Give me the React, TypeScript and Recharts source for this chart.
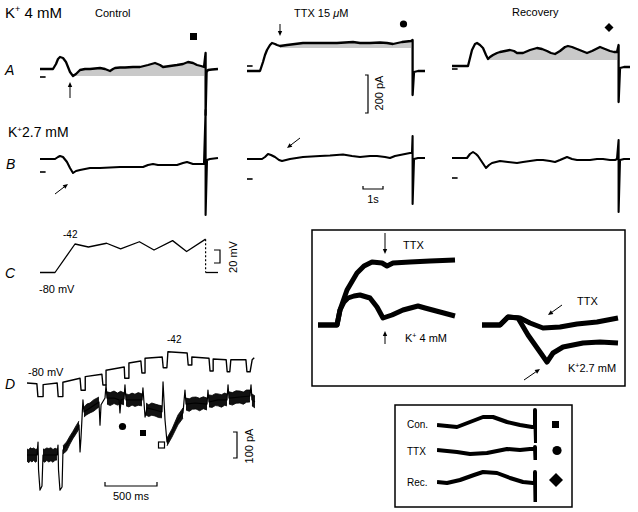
import React from 'react';
import { ComposedChart, Line, Area, XAxis, YAxis, ReferenceLine } from 'recharts';

type P = [number, number];

// ---------- Panel A (K+ 4 mM): time (s) vs current (pA, relative to holding) ----------
const ctrlA: P[] = [[0,0],[0.65,0],[0.8,25],[0.9,50],[1.0,60],[1.15,55],[1.3,35],[1.5,-15],[1.65,-35],[1.8,-25],[2.0,-5],[2.25,0],[2.5,0],[2.75,2.5],[3.0,5],[3.25,0],[3.5,-10],[3.65,0],[3.75,5],[4.0,7.5],[4.25,7.5],[4.65,10],[5.0,10],[5.4,20],[5.75,30],[6.0,20],[6.15,10],[6.5,15],[6.85,20],[7.15,25],[7.4,35],[7.65,30],[7.85,20],[8.05,15],[8.2,10],[8.28,80],[8.28,-230],[8.33,-15],[8.4,-5],[8.6,-2.5],[8.9,0]];
const ttxA: P[] = [[0,0],[0.65,0],[0.8,45],[0.9,80],[1.0,105],[1.15,130],[1.25,140],[1.4,135],[1.5,130],[1.65,125],[2.0,130],[2.4,135],[2.8,140],[3.65,140],[4.5,140],[4.9,142.5],[5.3,145],[5.65,140],[6.15,140],[6.65,142.5],[7.0,140],[7.3,135],[7.75,145],[8.2,150],[8.28,155],[8.28,-120],[8.35,-5],[8.55,0],[8.9,0]];
const recA: P[] = [[0,0],[0.8,0],[0.9,40],[1.0,80],[1.15,110],[1.25,115],[1.4,105],[1.55,90],[1.7,55],[1.8,35],[1.9,45],[2.05,55],[2.25,65],[2.4,70],[2.65,75],[2.9,80],[3.1,75],[3.25,65],[3.55,65],[3.9,80],[4.25,90],[4.5,85],[4.75,75],[4.95,65],[5.15,60],[5.4,75],[5.65,95],[5.8,100],[6.0,95],[6.25,85],[6.5,75],[6.75,65],[7.0,75],[7.2,85],[7.4,95],[7.65,85],[7.9,75],[8.1,70],[8.25,70],[8.33,105],[8.33,-180],[8.4,-10],[8.6,-5],[8.9,-5]];
// shaded (grey) region: [start s, end s, lower level pA]
const shadeA: [number, number, number][] = [[1.65, 8.2, -35], [1.65, 8.2, 115], [1.8, 8.25, 30]];
// zero-current marks (pA)
const zeroA: number[] = [-40, 25, -15];

// ---------- Panel B (K+ 2.7 mM) ----------
const ctrlB: P[] = [[0,0],[0.75,0],[0.9,10],[1.0,15],[1.15,10],[1.35,-15],[1.5,-45],[1.65,-70],[1.8,-60],[2.0,-55],[2.25,-50],[2.5,-45],[3.0,-45],[3.5,-42.5],[4.0,-40],[4.65,-40],[5.15,-40],[5.4,-30],[5.65,-25],[5.9,-30],[6.15,-30],[6.5,-30],[6.85,-30],[7.15,-20],[7.35,-15],[7.65,-25],[8.0,-25],[8.2,-25],[8.28,245],[8.28,-280],[8.35,-5],[8.5,0],[8.9,5]];
const ttxB: P[] = [[0,0],[0.75,0],[0.9,10],[1.05,25],[1.2,20],[1.4,10],[1.6,-5],[1.75,-10],[1.95,-5],[2.15,0],[2.8,10],[3.65,15],[4.15,17.5],[4.8,22.5],[5.25,15],[5.65,10],[6.15,15],[6.5,15],[6.9,10],[7.15,5],[7.4,15],[7.65,20],[7.9,25],[8.15,30],[8.25,30],[8.28,115],[8.28,-225],[8.35,0],[8.55,5],[8.9,5]];
const recB: P[] = [[0,0],[0.75,0],[0.9,20],[1.05,30],[1.2,20],[1.3,10],[1.5,-20],[1.7,-50],[1.85,-35],[2.0,-25],[2.2,-20],[2.4,-15],[2.8,-20],[3.25,-25],[3.55,-20],[3.9,-15],[4.25,-10],[4.55,-10],[4.9,-15],[5.15,-20],[5.4,-10],[5.75,5],[6.0,-5],[6.25,-10],[6.65,-10],[6.9,-10],[7.25,-5],[7.55,-5],[7.9,-10],[8.15,-10],[8.25,-5],[8.33,90],[8.33,-270],[8.4,-10],[8.6,-5],[8.9,-5]];
const zeroB: number[] = [-65, -100, -100];

// ---------- Panel C: command voltage (mV) ----------
const cmdC: P[] = [[0,-80],[0.75,-80],[1.75,-42],[2.42,-46],[3.33,-41],[4.03,-48.5],[4.97,-39],[5.7,-50],[6.63,-37.5],[7.33,-52],[8.28,-35.5]];
const cmdCStep: P[] = [[8.28,-35.5],[8.28,-80]];
const cmdCTail: P[] = [[8.28,-80],[8.9,-80]];

// ---------- Panel D: time (ms) ----------
const dVolt: P[] = [[0,-80],[95,-81],[105,-97],[155,-97],[155,-82],[290,-80],[300,-97],[345,-97],[345,-79],[510,-74],[520,-89],[560,-89],[560,-72],[720,-69],[730,-82.5],[760,-82.5],[760,-64],[935,-60],[940,-74],[980,-74],[980,-55],[1095,-52.5],[1105,-67.5],[1135,-67.5],[1135,-49],[1300,-47.5],[1310,-61],[1345,-61],[1355,-41],[1540,-42.5],[1550,-57.5],[1585,-57.5],[1585,-47.5],[1750,-49],[1760,-65],[1790,-65],[1790,-50],[1915,-51],[1925,-66],[1950,-66],[1960,-51],[2105,-51],[2115,-66],[2145,-66],[2165,-51],[2185,-48.5]];
const dCurr: P[] = [[0,0],[96,0],[106,50],[111,-58],[125,-135],[144,-119],[154,0],[288,0],[298,38],[303,-58],[317,-135],[337,-123],[346,19],[413,58],[471,96],[500,115],[510,12],[519,65],[538,212],[548,166],[606,181],[692,204],[702,115],[712,193],[750,219],[760,270],[769,219],[837,219],[885,212],[894,162],[904,212],[933,216],[942,270],[952,212],[1038,212],[1106,212],[1115,258],[1135,146],[1154,181],[1231,173],[1298,166],[1308,281],[1327,135],[1346,50],[1375,73],[1413,104],[1452,135],[1500,162],[1519,250],[1529,196],[1615,200],[1731,196],[1740,250],[1750,204],[1837,212],[1923,212],[1933,270],[1942,219],[2048,223],[2144,227],[2154,270],[2163,212],[2192,204]];
// noise envelope of the current record: segments of [t, low, high]
const dNoise: [number, number, number][][] = [
  [[0,-23,23],[16,-30,20],[32,-22,28],[48,-27,24],[64,-20,27],[80,-28,22],[96,-23,23]],
  [[154,-23,23],[170,-28,22],[190,-21,27],[210,-27,25],[230,-22,28],[250,-28,21],[270,-20,26],[288,-19,23]],
  [[346,4,35],[380,15,50],[413,42,73],[440,62,90],[471,81,112],[500,100,131]],
  [[548,146,185],[575,155,196],[606,162,200],[640,168,212],[692,185,223]],
  [[769,196,243],[800,190,240],[837,198,246],[870,192,238],[900,197,245],[933,193,239]],
  [[952,189,235],[980,185,232],[1010,192,238],[1038,187,234],[1070,191,240],[1106,189,235]],
  [[1144,154,200],[1170,148,193],[1200,153,200],[1231,150,196],[1265,144,192],[1298,143,189]],
  [[1346,35,65],[1394,69,100],[1452,116,154],[1500,142,181]],
  [[1529,173,219],[1560,168,216],[1590,176,222],[1625,177,223],[1660,170,218],[1695,178,224],[1731,173,219]],
  [[1750,185,231],[1780,183,229],[1810,190,236],[1837,189,235],[1870,184,232],[1900,191,238],[1923,189,235]],
  [[1942,196,243],[1975,192,240],[2010,199,247],[2048,200,246],[2080,195,242],[2110,203,250],[2144,204,250]],
  [[2163,189,235],[2192,181,227]],
];

// ---------- Inset 1: expanded onsets (ms, pA) ----------
const in4Ttx: P[] = [[0,0],[380,0],[440,30],[580,70],[780,104],[920,118],[1080,126],[1280,124],[1380,118],[1500,124],[1840,126],[2240,128],[2740,130]];
const in4Ctl: P[] = [[0,0],[380,0],[440,30],[520,46],[600,54],[720,58],[840,60],[1040,54],[1180,36],[1300,14],[1480,20],[1700,30],[2000,38],[2140,34],[2440,26],[2740,18]];
const in27Ttx: P[] = [[0,0],[360,0],[520,16],[760,14],[960,4],[1220,-6],[1560,-4],[1900,2],[2300,6],[2720,14]];
const in27Ctl: P[] = [[0,0],[360,0],[520,16],[720,14],[920,-20],[1160,-54],[1300,-74],[1420,-56],[1620,-44],[2020,-36],[2360,-34],[2720,-36]];

// ---------- Inset 2: ends of the records (ms, pA) ----------
const endCon: P[] = [[0,0],[100,-2],[200,-4],[330,6],[460,16],[560,16],[700,6],[830,0],[950,-4],[980,-4],[980,30],[990,-36]];
const endTtx: P[] = [[0,0],[200,-4],[330,-8],[500,-6],[700,2],[830,0],[930,2],[980,2],[980,6],[985,-20]];
const endRec: P[] = [[0,0],[100,-2],[230,4],[370,14],[460,20],[600,18],[730,8],[860,0],[960,-2],[980,-2],[980,20],[985,-40]];

const FONT = '"Liberation Sans", Arial, Helvetica, sans-serif';

type TraceProps = {
  left: number; top: number; width: number; height: number;
  xd: [number, number]; yd: [number, number];
  pts: P[]; sw?: number; shade?: [number, number, number]; zero?: number; zeroLen?: number;
  dashed?: boolean;
};

function Trace({ left, top, width, height, xd, yd, pts, sw = 2, shade, zero, zeroLen = 0.28, dashed }: TraceProps) {
  const rows = pts.map(([t, v]) => ({
    t, v,
    f: shade && t >= shade[0] && t <= shade[1] ? v : null,
  }));
  return (
    <div style={{ position: 'absolute', left, top, width, height }}>
      <ComposedChart width={width} height={height} data={rows} margin={{ top: 0, right: 0, bottom: 0, left: 0 }}>
        <XAxis type="number" dataKey="t" domain={xd} hide allowDataOverflow />
        <YAxis type="number" domain={yd} hide allowDataOverflow />
        {shade && (
          <Area dataKey="f" baseValue={shade[2]} stroke="none" fill="#c9c9c9" fillOpacity={1} isAnimationActive={false} connectNulls={false} type="linear" />
        )}
        {zero !== undefined && (
          <ReferenceLine segment={[{ x: 0, y: zero }, { x: zeroLen, y: zero }]} stroke="#000" strokeWidth={1.6} />
        )}
        <Line dataKey="v" stroke="#000" strokeWidth={sw} dot={false} isAnimationActive={false} type="linear"
          strokeDasharray={dashed ? '2 2' : undefined} strokeLinejoin="round" />
      </ComposedChart>
    </div>
  );
}

function NoiseBand({ left, top, width, height, xd, yd }: { left: number; top: number; width: number; height: number; xd: [number, number]; yd: [number, number] }) {
  const rows: { t: number; r: [number, number] | null }[] = [];
  dNoise.forEach((seg) => {
    seg.forEach(([t, lo, hi]) => rows.push({ t, r: [lo, hi] }));
    rows.push({ t: seg[seg.length - 1][0] + 1, r: null });
  });
  return (
    <div style={{ position: 'absolute', left, top, width, height }}>
      <ComposedChart width={width} height={height} data={rows} margin={{ top: 0, right: 0, bottom: 0, left: 0 }}>
        <XAxis type="number" dataKey="t" domain={xd} hide allowDataOverflow />
        <YAxis type="number" domain={yd} hide allowDataOverflow />
        <Area dataKey="r" stroke="#000" strokeWidth={0.8} fill="#111" fillOpacity={1} isAnimationActive={false} connectNulls={false} type="linear" />
      </ComposedChart>
    </div>
  );
}

function Arrow({ x1, y1, x2, y2 }: { x1: number; y1: number; x2: number; y2: number }) {
  const dx = x2 - x1, dy = y2 - y1;
  const L = Math.hypot(dx, dy);
  const ux = dx / L, uy = dy / L;
  const hl = 5, hw = 2.2;
  const bx = x2 - ux * hl, by = y2 - uy * hl;
  const p = `${x2},${y2} ${bx - uy * hw},${by + ux * hw} ${bx + uy * hw},${by - ux * hw}`;
  return (
    <g>
      <line x1={x1} y1={y1} x2={bx} y2={by} stroke="#000" strokeWidth={1} />
      <polygon points={p} fill="#000" />
    </g>
  );
}

function T({ x, y, s = 11, children, anchor = 'start', italic, rot }: { x: number; y: number; s?: number; children: React.ReactNode; anchor?: string; italic?: boolean; rot?: boolean }) {
  return (
    <text x={x} y={y} fontSize={s} fontFamily={FONT} fill="#000" textAnchor={anchor as any}
      fontStyle={italic ? 'italic' : 'normal'} transform={rot ? `rotate(-90 ${x} ${y})` : undefined}>
      {children}
    </text>
  );
}

export default function App() {
  const rowAY = [69, 71, 66];
  const rowBY = [159, 159, 158];
  const cols = [40, 247, 452];
  const A = [ctrlA, ttxA, recA];
  const B = [ctrlB, ttxB, recB];
  return (
    <div style={{ position: 'absolute', left: 0, top: 0, width: 638, height: 512, background: '#fff', overflow: 'hidden' }}>
      {A.map((pts, i) => (
        <Trace key={'a' + i} left={cols[i]} top={rowAY[i] - 100} width={200} height={200} xd={[0, 10]} yd={[-500, 500]}
          pts={pts} sw={2.3} shade={shadeA[i]} zero={zeroA[i]} />
      ))}
      {B.map((pts, i) => (
        <Trace key={'b' + i} left={cols[i]} top={rowBY[i] - 100} width={200} height={200} xd={[0, 10]} yd={[-500, 500]}
          pts={pts} sw={2.1} zero={zeroB[i]} />
      ))}
      <Trace left={40} top={220} width={200} height={60} xd={[0, 10]} yd={[-90, -10]} pts={cmdC} sw={1.3} />
      <Trace left={40} top={220} width={200} height={60} xd={[0, 10]} yd={[-90, -10]} pts={cmdCStep} sw={1.2} dashed />
      <Trace left={40} top={220} width={200} height={60} xd={[0, 10]} yd={[-90, -10]} pts={cmdCTail} sw={1.3} />

      <Trace left={27} top={335} width={260} height={64} xd={[0, 2500]} yd={[-100, -20]} pts={dVolt} sw={1.4} />
      <NoiseBand left={27} top={377} width={260} height={130} xd={[0, 2500]} yd={[-200, 300]} />
      <Trace left={27} top={377} width={260} height={130} xd={[0, 2500]} yd={[-200, 300]} pts={dCurr} sw={1.2} />

      <Trace left={318} top={245} width={140} height={130} xd={[0, 2800]} yd={[-100, 160]} pts={in4Ttx} sw={5} />
      <Trace left={318} top={245} width={140} height={130} xd={[0, 2800]} yd={[-100, 160]} pts={in4Ctl} sw={5} />
      <Trace left={482} top={245} width={140} height={130} xd={[0, 2800]} yd={[-100, 160]} pts={in27Ttx} sw={5} />
      <Trace left={482} top={245} width={140} height={130} xd={[0, 2800]} yd={[-100, 160]} pts={in27Ctl} sw={5} />

      <Trace left={437} top={400} width={100} height={50} xd={[0, 1000]} yd={[-50, 50]} pts={endCon} sw={4} />
      <Trace left={437} top={425} width={100} height={50} xd={[0, 1000]} yd={[-50, 50]} pts={endTtx} sw={4} />
      <Trace left={437} top={457} width={100} height={50} xd={[0, 1000]} yd={[-50, 50]} pts={endRec} sw={4} />

      <svg width={638} height={512} style={{ position: 'absolute', left: 0, top: 0, pointerEvents: 'none' }}>
        {/* headings */}
        <T x={5} y={18} s={15}>K<tspan dy={-6} fontSize={9}>+</tspan><tspan dy={6}> 4 mM</tspan></T>
        <T x={95} y={17}>Control</T>
        <T x={294} y={17}>TTX 15 <tspan fontStyle="italic">μ</tspan>M</T>
        <T x={512} y={16}>Recovery</T>
        <T x={5} y={75} s={14} italic>A</T>
        <T x={8} y={137} s={14}>K<tspan dy={-5} fontSize={8}>+</tspan><tspan dy={5}>2.7 mM</tspan></T>
        <T x={6} y={169} s={14} italic>B</T>
        <T x={5} y={278} s={14} italic>C</T>
        <T x={5} y={389} s={14} italic>D</T>

        {/* markers */}
        <rect x={190} y={33} width={7} height={7} fill="#000" />
        <circle cx={403.5} cy={24} r={3.6} fill="#000" />
        <polygon points="609,23 613.5,27.5 609,32 604.5,27.5" fill="#000" />

        {/* scale bars */}
        <path d="M365 75 H368 V113 H365" stroke="#000" strokeWidth={1.2} fill="none" />
        <T x={383} y={93} rot anchor="middle">200 pA</T>
        <path d="M363 186 V189 H383 V186" stroke="#000" strokeWidth={1.2} fill="none" />
        <T x={373} y={203} anchor="middle">1s</T>
        <path d="M214 250 H220 V263 H214" stroke="#000" strokeWidth={1.2} fill="none" />
        <T x={237} y={257} rot anchor="middle">20 mV</T>

        {/* arrows A/B */}
        <Arrow x1={70} y1={98} x2={70} y2={82} />
        <Arrow x1={280} y1={24} x2={280} y2={36} />
        <Arrow x1={55} y1={194} x2={68} y2={184} />
        <Arrow x1={300} y1={138} x2={287} y2={148} />

        {/* C labels */}
        <T x={63} y={238} s={10}>-42</T>
        <T x={39} y={293}>-80 mV</T>

        {/* D labels */}
        <T x={28} y={376}>-80 mV</T>
        <T x={167} y={343} s={10}>-42</T>
        <circle cx={122.5} cy={426.5} r={3.6} fill="#000" />
        <rect x={140} y={430} width={6} height={6} fill="#000" />
        <rect x={158.5} y={442} width={6} height={6} fill="#fff" stroke="#000" strokeWidth={1.2} />
        <path d="M233 432 H237 V458 H233" stroke="#000" strokeWidth={1.2} fill="none" />
        <T x={253} y={446} rot anchor="middle">100 pA</T>
        <path d="M105 482 V486 H157 V482" stroke="#000" strokeWidth={1.2} fill="none" />
        <T x={131} y={500} anchor="middle">500 ms</T>

        {/* inset 1 */}
        <rect x={312} y={230} width={313} height={156} fill="none" stroke="#000" strokeWidth={1.5} />
        <Arrow x1={385} y1={233} x2={385} y2={254} />
        <T x={403} y={249}>TTX</T>
        <Arrow x1={385} y1={344} x2={385} y2={331} />
        <T x={405} y={342}>K<tspan dy={-4} fontSize={7}>+</tspan><tspan dy={4}> 4 mM</tspan></T>
        <T x={577} y={305}>TTX</T>
        <Arrow x1={562} y1={305} x2={548} y2={315} />
        <T x={568} y={372}>K<tspan dy={-4} fontSize={7}>+</tspan><tspan dy={4}>2.7 mM</tspan></T>
        <Arrow x1={524} y1={380} x2={540} y2={369} />

        {/* inset 2 */}
        <rect x={395} y={405} width={177} height={102} fill="none" stroke="#000" strokeWidth={1.5} />
        <T x={407} y={428} s={10}>Con.</T>
        <T x={407} y={455} s={10}>TTX</T>
        <T x={407} y={486} s={10}>Rec.</T>
        <rect x={552} y={421} width={7} height={7} fill="#000" />
        <circle cx={557} cy={450.5} r={4.6} fill="#000" />
        <polygon points="556,473 563,480 556,487 549,480" fill="#000" />
      </svg>
    </div>
  );
}
